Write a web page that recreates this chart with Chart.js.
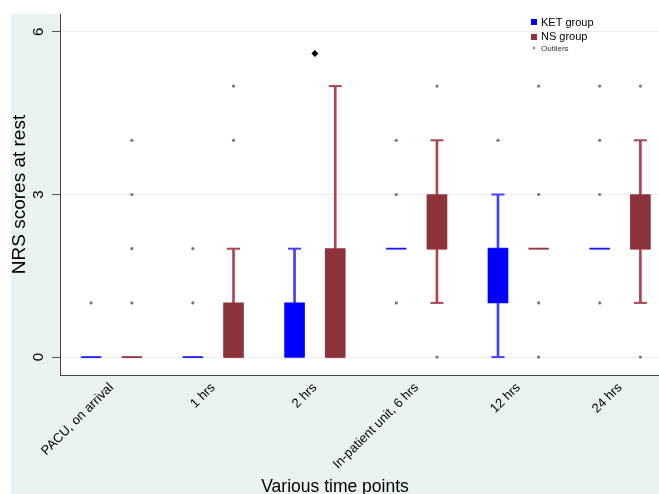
<!DOCTYPE html>
<html>
<head>
<meta charset="utf-8">
<script src="https://cdn.jsdelivr.net/npm/chart.js@4"></script>
<style>
  html, body { margin: 0; padding: 0; background: #fff; overflow: hidden; }
  #wrap { width: 659px; height: 494px; }
  canvas { display: block; }
</style>
</head>
<body>
<div id="wrap"><canvas id="nrsChart"></canvas></div>
<script>
const categories = ["PACU, on arrival", "1 hrs", "2 hrs", "In-patient unit, 6 hrs", "12 hrs", "24 hrs"];
const yTicks = [0, 3, 6];

// KET group
const ketQ1 = [0, 0, 0, 2, 1, 2];
const ketMedian = [0, 0, 0, 2, 2, 2];
const ketQ3 = [0, 0, 1, 2, 2, 2];
const ketLow = [0, 0, 0, 2, 0, 2];
const ketHigh = [0, 0, 2, 2, 3, 2];
const ketOutliers = [[1], [1, 2], [], [1, 3, 4], [4], [1, 3, 4, 5]];

// NS group
const nsQ1 = [0, 0, 0, 2, 2, 2];
const nsMedian = [0, 0, 0, 2, 2, 2];
const nsQ3 = [0, 1, 2, 3, 2, 3];
const nsLow = [0, 0, 0, 1, 2, 1];
const nsHigh = [0, 2, 5, 4, 2, 4];
const nsOutliers = [[1, 2, 3, 4], [4, 5], [], [0, 5], [0, 1, 3, 5], [0, 5]];

// black marker above the 2 hrs pair
const markers = [null, null, 5.6, null, null, null];

const KET = "#0000ff", KET_LINE = "#4040ff";
const NS = "#8c333b", NS_LINE = "#a8474f";
const SHIFT = 0.2;

function boxData(q1, q3, shift) {
  return q1.map((v, i) => ({ x: i + 1 + shift, y: [v, q3[i]] }));
}

function whiskerData(q1, q3, low, high, shift) {
  const out = [];
  q1.forEach((v, i) => {
    if (low[i] < v) out.push({ x: i + 1 + shift, y: [low[i], v] });
    if (high[i] > q3[i]) out.push({ x: i + 1 + shift, y: [q3[i], high[i]] });
  });
  return out;
}

function capData(q1, q3, low, high, shift) {
  const out = [];
  q1.forEach((v, i) => {
    if (low[i] < v) out.push({ x: i + 1 + shift, y: low[i] });
    if (high[i] > q3[i]) out.push({ x: i + 1 + shift, y: high[i] });
  });
  return out;
}

function pointData(values, shift) {
  return values.map((v, i) => ({ x: i + 1 + shift, y: v }));
}

function outlierData(list, shift) {
  const out = [];
  list.forEach((vals, i) => vals.forEach(v => out.push({ x: i + 1 + shift, y: v })));
  return out;
}

function dots(label, data, color, style, radius, width) {
  return {
    type: "line", label: label, data: data, showLine: false,
    pointStyle: style, pointRadius: radius, pointHoverRadius: radius,
    pointBorderWidth: width, pointHoverBorderWidth: width,
    borderColor: color, backgroundColor: color
  };
}

const backgroundPlugin = {
  id: "stataBackground",
  beforeDraw(chart) {
    const { ctx, chartArea, width, height } = chart;
    ctx.save();
    ctx.fillStyle = "rgb(234,242,243)";
    ctx.fillRect(11, 14, width - 11, height - 14);
    ctx.fillStyle = "#fff";
    ctx.fillRect(chartArea.left, chartArea.top, chartArea.right - chartArea.left, chartArea.bottom - chartArea.top);
    ctx.restore();
  }
};

const legendPlugin = {
  id: "cornerLegend",
  afterDraw(chart) {
    const { ctx, chartArea } = chart;
    const x = chartArea.right - 125;
    const y = chartArea.top;
    ctx.save();
    ctx.textBaseline = "middle";
    ctx.textAlign = "left";
    ctx.fillStyle = KET;
    ctx.fillRect(x - 3, y + 5, 6, 6);
    ctx.fillStyle = NS;
    ctx.fillRect(x - 3, y + 20, 6, 6);
    ctx.fillStyle = "#777";
    ctx.beginPath();
    ctx.arc(x, y + 34, 1.2, 0, Math.PI * 2);
    ctx.fill();
    ctx.fillStyle = "#000";
    ctx.font = "11px 'Liberation Sans', Arial, sans-serif";
    ctx.fillText("KET group", x + 7, y + 8.5);
    ctx.fillText("NS group", x + 7, y + 23);
    ctx.fillStyle = "#333";
    ctx.font = "8px 'Liberation Sans', Arial, sans-serif";
    ctx.fillText("Outliers", x + 7, y + 34.5);
    ctx.restore();
  }
};

Chart.defaults.font.family = "'Liberation Sans', Arial, sans-serif";

// first dataset is drawn on top
const datasets = [
  dots("Marker", pointData(markers, 0).filter(p => p.y !== null), "#000", "rectRot", 3.5, 0),
  dots("Outliers", outlierData(ketOutliers, -SHIFT).concat(outlierData(nsOutliers, SHIFT)), "#777", "circle", 1.6, 0),
  { type: "bar", label: "KET group", data: boxData(ketQ1, ketQ3, -SHIFT), backgroundColor: KET, barThickness: 20, grouped: false },
  { type: "bar", label: "NS group", data: boxData(nsQ1, nsQ3, SHIFT), backgroundColor: NS, barThickness: 20, grouped: false },
  dots("KET median", pointData(ketMedian, -SHIFT), KET_LINE, "line", 10, 2),
  dots("NS median", pointData(nsMedian, SHIFT), NS_LINE, "line", 10, 2),
  dots("KET caps", capData(ketQ1, ketQ3, ketLow, ketHigh, -SHIFT), KET_LINE, "line", 6.5, 2),
  dots("NS caps", capData(nsQ1, nsQ3, nsLow, nsHigh, SHIFT), NS_LINE, "line", 6.5, 2),
  { type: "bar", label: "KET whiskers", data: whiskerData(ketQ1, ketQ3, ketLow, ketHigh, -SHIFT), backgroundColor: KET_LINE, barThickness: 2, grouped: false },
  { type: "bar", label: "NS whiskers", data: whiskerData(nsQ1, nsQ3, nsLow, nsHigh, SHIFT), backgroundColor: NS_LINE, barThickness: 2, grouped: false }
];

new Chart(document.getElementById("nrsChart").getContext("2d"), {
  type: "bar",
  data: { datasets: datasets },
  options: {
    responsive: true,
    maintainAspectRatio: false,
    animation: false,
    layout: { autoPadding: false, padding: { left: 11, top: 14, right: 0, bottom: 0 } },
    plugins: {
      legend: { display: false },
      tooltip: { enabled: false },
      title: {
        display: true,
        position: "bottom",
        text: "Various time points",
        color: "#000",
        font: { size: 17.5, weight: "normal" },
        padding: { top: 0, bottom: -4 }
      }
    },
    scales: {
      x: {
        type: "linear",
        min: 0.494,
        max: 6.383,
        offset: false,
        afterBuildTicks: s => { s.ticks = categories.map((c, i) => ({ value: i + 1 })); },
        afterFit: s => { s.height = 102; s.paddingLeft = 0; s.paddingRight = 0; },
        ticks: {
          callback: v => categories[v - 1],
          minRotation: 45,
          maxRotation: 45,
          autoSkip: false,
          font: { size: 13 },
          color: "#000",
          padding: 5
        },
        grid: { display: false, drawTicks: false },
        border: { display: true, color: "#444", width: 1 }
      },
      y: {
        type: "linear",
        min: -0.33,
        max: 6.33,
        afterBuildTicks: s => { s.ticks = yTicks.map(v => ({ value: v })); },
        afterFit: s => { s.width = 49; s.paddingTop = 0; s.paddingBottom = 0; },
        ticks: {
          font: { size: 15 },
          color: "#000",
          minRotation: 90,
          maxRotation: 90,
          crossAlign: "center",
          padding: 9
        },
        grid: { color: "rgb(230,238,240)", tickColor: "#555", tickLength: 8, lineWidth: 1 },
        border: { color: "#444", width: 1 },
        title: {
          display: true,
          text: "NRS scores at rest",
          color: "#000",
          font: { size: 19 },
          padding: { top: -3, bottom: 0 }
        }
      }
    }
  },
  plugins: [backgroundPlugin, legendPlugin]
});
</script>
</body>
</html>
